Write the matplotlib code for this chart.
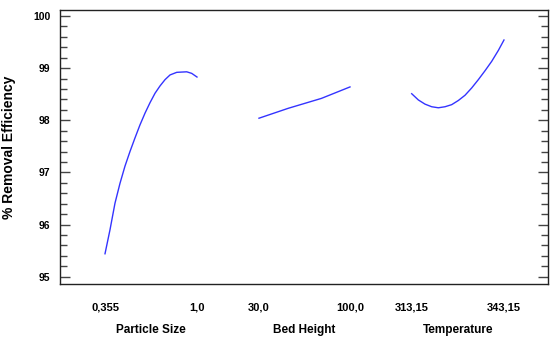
import numpy as np
import matplotlib.pyplot as plt
from matplotlib.ticker import MultipleLocator
from matplotlib.transforms import blended_transform_factory

# ---- data ----
factor_names = ["Particle Size", "Bed Height", "Temperature"]
tick_text = [["0,355", "1,0"], ["30,0", "100,0"], ["313,15", "343,15"]]

particle_size = [0.355, 0.390, 0.425, 0.460, 0.495, 0.530, 0.565, 0.600, 0.636,
                 0.671, 0.706, 0.741, 0.776, 0.811, 0.858, 0.928, 0.963, 1.0]
eff_particle = [95.44, 95.90, 96.41, 96.79, 97.12, 97.40, 97.66, 97.91, 98.14,
                98.34, 98.52, 98.66, 98.78, 98.87, 98.92, 98.93, 98.90, 98.83]

bed_height = [30.0, 52.5, 78.0, 100.0]
eff_bed = [98.04, 98.23, 98.42, 98.64]

temperature = [313.15, 315.32, 317.48, 319.65, 321.82, 323.98, 326.15, 328.32,
               330.48, 332.65, 334.82, 336.98, 339.15, 341.32, 343.15]
eff_temp = [98.51, 98.39, 98.31, 98.26, 98.24, 98.26, 98.30, 98.38,
            98.48, 98.62, 98.78, 98.95, 99.13, 99.34, 99.54]

# where each factor's low/high level sits along the shared x axis (0..1)
slots = [(0.0917, 0.2803), (0.4074, 0.5940), (0.7205, 0.9097)]

plt.rcParams['font.family'] = ['Liberation Sans', 'DejaVu Sans']
plt.rcParams['font.weight'] = 'bold'

fig = plt.figure(figsize=(5.54, 3.43), dpi=100)
ax = fig.add_axes([0.1088, 0.172, 0.8804, 0.798])

series = [(particle_size, eff_particle), (bed_height, eff_bed), (temperature, eff_temp)]
ticks = []
for (lvl, eff), (a, b) in zip(series, slots):
    lvl = np.asarray(lvl)
    pos = a + (lvl - lvl[0]) / (lvl[-1] - lvl[0]) * (b - a)
    ax.plot(pos, eff, color='#3434ff', lw=1.0)
    ticks += [a, b]

ax.set_xlim(0, 1)
ax.set_ylim(94.86, 100.11)

ax.set_xticks(ticks)
ax.set_xticklabels(sum(tick_text, []), fontsize=8, fontweight='bold')
ax.tick_params(axis='x', length=0, pad=13)

ax.yaxis.set_major_locator(MultipleLocator(1))
ax.yaxis.set_minor_locator(MultipleLocator(0.2))
ax.tick_params(axis='y', which='both', direction='in', left=True, right=True,
               labelsize=7.5, pad=7, color='#444444')
ax.tick_params(axis='y', which='major', length=7, width=1.0)
ax.tick_params(axis='y', which='minor', length=5, width=1.0)

for s in ax.spines.values():
    s.set_color('#222222')
    s.set_linewidth(1.0)

trans = blended_transform_factory(ax.transData, fig.transFigure)
for name, (a, b) in zip(factor_names, slots):
    ax.text((a + b) / 2, 1 - 330 / 343, name, transform=trans, ha='center', va='center',
            fontsize=8.5, fontweight='bold')

ax.set_ylabel("% Removal Efficiency", fontsize=10, fontweight='bold')
ax.yaxis.set_label_coords(-0.0918, 0.5)

fig.savefig("out.png", dpi=100)
